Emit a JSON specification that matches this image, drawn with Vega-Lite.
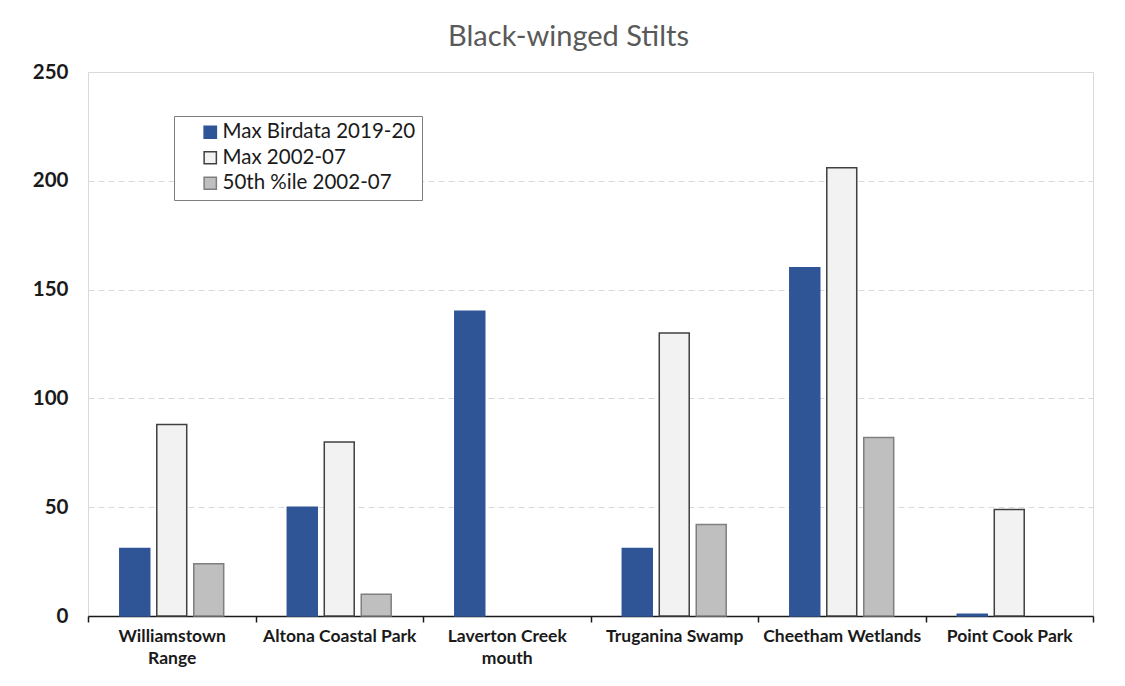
{
  "$schema": "https://vega.github.io/schema/vega-lite/v6.json",
  "autosize": {"type": "none"},
  "width": 1005,
  "height": 544,
  "padding": {"left": 88, "top": 72, "right": 32, "bottom": 70},
  "background": "#ffffff",
  "title": {
    "text": "Black-winged Stilts",
    "font": "Lato",
    "fontSize": 29,
    "fontWeight": "normal",
    "color": "#595959",
    "anchor": "middle",
    "dx": -22,
    "offset": 10
  },
  "data": {
    "values": [
      {"site": "Williamstown Range", "series": "Max Birdata 2019-20", "value": 31},
      {"site": "Williamstown Range", "series": "Max 2002-07", "value": 88},
      {"site": "Williamstown Range", "series": "50th %ile 2002-07", "value": 24},
      {"site": "Altona Coastal Park", "series": "Max Birdata 2019-20", "value": 50},
      {"site": "Altona Coastal Park", "series": "Max 2002-07", "value": 80},
      {"site": "Altona Coastal Park", "series": "50th %ile 2002-07", "value": 10},
      {"site": "Laverton Creek mouth", "series": "Max Birdata 2019-20", "value": 140},
      {"site": "Truganina Swamp", "series": "Max Birdata 2019-20", "value": 31},
      {"site": "Truganina Swamp", "series": "Max 2002-07", "value": 130},
      {"site": "Truganina Swamp", "series": "50th %ile 2002-07", "value": 42},
      {"site": "Cheetham Wetlands", "series": "Max Birdata 2019-20", "value": 160},
      {"site": "Cheetham Wetlands", "series": "Max 2002-07", "value": 206},
      {"site": "Cheetham Wetlands", "series": "50th %ile 2002-07", "value": 82},
      {"site": "Point Cook Park", "series": "Max Birdata 2019-20", "value": 0.8},
      {"site": "Point Cook Park", "series": "Max 2002-07", "value": 49}
    ]
  },
  "mark": {"type": "bar", "strokeWidth": 1.5},
  "encoding": {
    "x": {
      "field": "site",
      "type": "nominal",
      "sort": ["Williamstown Range", "Altona Coastal Park", "Laverton Creek mouth", "Truganina Swamp", "Cheetham Wetlands", "Point Cook Park"],
      "scale": {"paddingInner": 0, "paddingOuter": 0},
      "axis": {
        "title": null,
        "labelAngle": 0,
        "tickBand": "extent",
        "domainColor": "#1a1a1a",
        "domainWidth": 1.5,
        "tickColor": "#1a1a1a",
        "tickWidth": 1.5,
        "tickSize": 6,
        "labelFont": "Lato",
        "labelFontSize": 17.5,
        "labelFontWeight": "bold",
        "labelColor": "#1a1a1a",
        "labelPadding": 5,
        "labelLineHeight": 22,
        "labelExpr": "datum.label == 'Williamstown Range' ? ['Williamstown', 'Range'] : datum.label == 'Laverton Creek mouth' ? ['Laverton Creek', 'mouth'] : datum.label",
        "grid": false
      }
    },
    "xOffset": {
      "field": "series",
      "type": "nominal",
      "sort": ["Max Birdata 2019-20", "Max 2002-07", "50th %ile 2002-07"],
      "scale": {"paddingInner": 0.19, "paddingOuter": 0.86}
    },
    "y": {
      "field": "value",
      "type": "quantitative",
      "scale": {"domain": [0, 250], "nice": false},
      "axis": {
        "title": null,
        "values": [0, 50, 100, 150, 200, 250],
        "domain": false,
        "ticks": false,
        "labelFont": "Lato",
        "labelFontSize": 20.5,
        "labelFontWeight": "bold",
        "labelColor": "#1a1a1a",
        "labelPadding": 20,
        "gridColor": "#D9D9D9",
        "gridDash": [6, 4],
        "gridWidth": 1
      }
    },
    "color": {
      "field": "series",
      "type": "nominal",
      "sort": ["Max Birdata 2019-20", "Max 2002-07", "50th %ile 2002-07"],
      "scale": {
        "domain": ["Max Birdata 2019-20", "Max 2002-07", "50th %ile 2002-07"],
        "range": ["#2F5597", "#F2F2F2", "#BFBFBF"]
      },
      "legend": {
        "title": null,
        "orient": "none",
        "legendX": 86,
        "legendY": 44,
        "direction": "vertical",
        "fillColor": "#ffffff",
        "strokeColor": "#7F7F7F",
        "padding": 6,
        "symbolType": "square",
        "symbolSize": 150,
        "symbolOffset": 20,
        "labelFont": "Lato",
        "labelFontSize": 20.5,
        "labelColor": "#1a1a1a",
        "labelOffset": 2,
        "labelLimit": 400,
        "rowPadding": 4.5
      }
    },
    "stroke": {
      "field": "series",
      "type": "nominal",
      "scale": {
        "domain": ["Max Birdata 2019-20", "Max 2002-07", "50th %ile 2002-07"],
        "range": ["#2F5597", "#404040", "#7F7F7F"]
      },
      "legend": null
    }
  },
  "config": {
    "view": {"stroke": "#D9D9D9", "strokeWidth": 1}
  }
}
